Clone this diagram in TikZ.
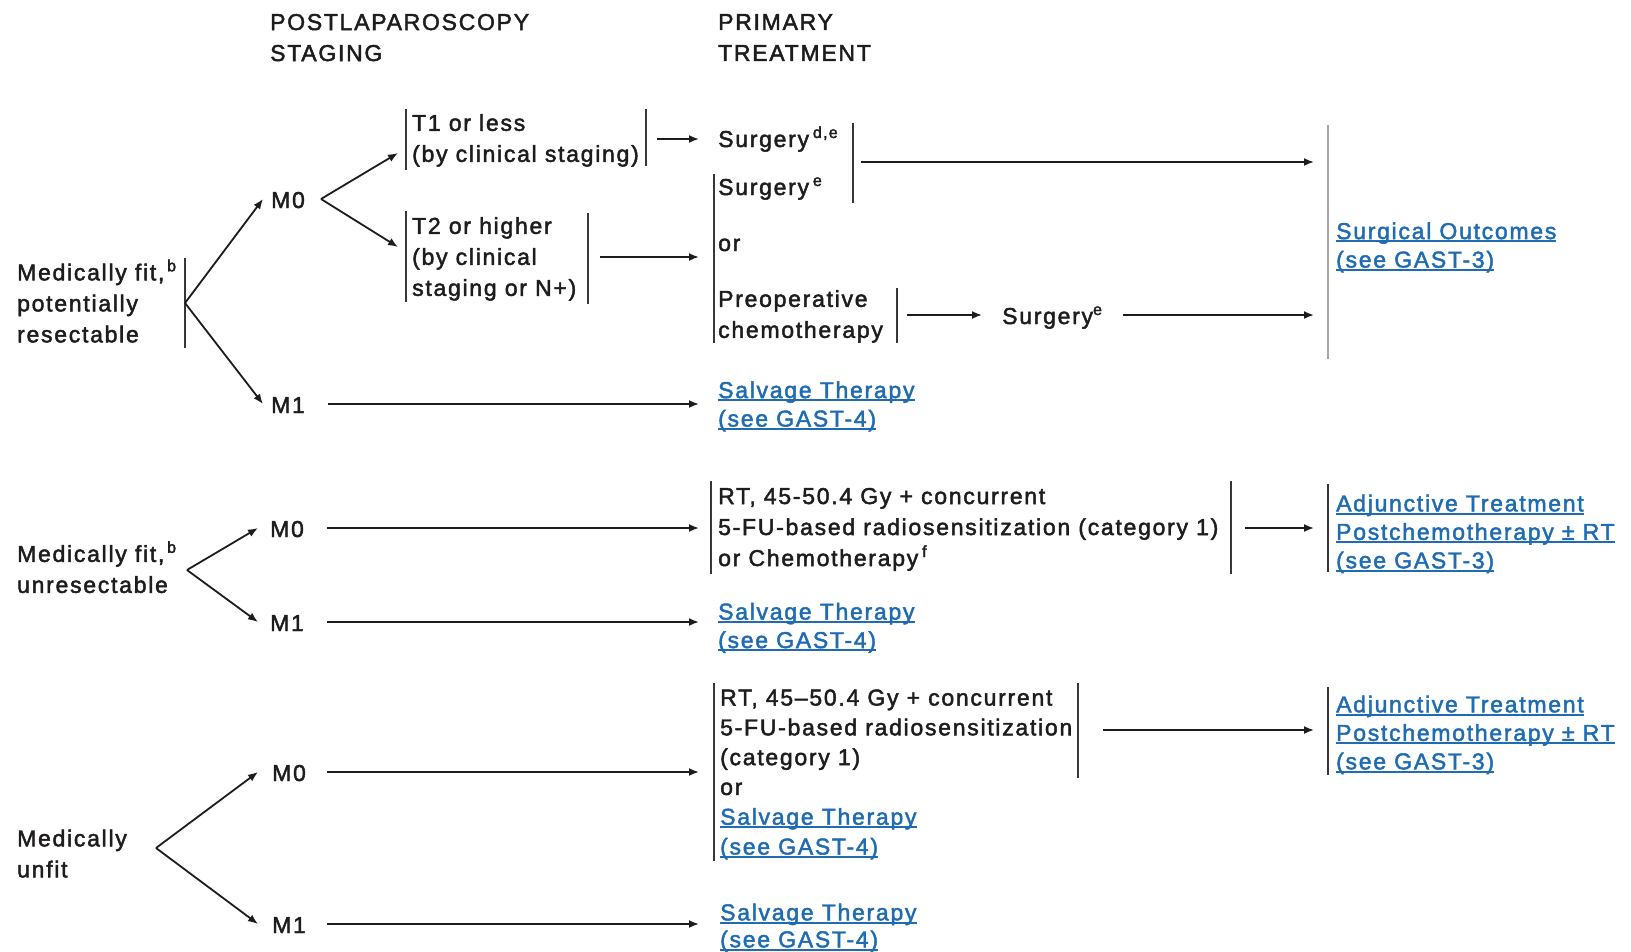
\documentclass[tikz,border=0pt]{standalone}
\usepackage{fontspec}
\setmainfont{Liberation Sans}[LetterSpace=7.5,FakeBold=2]
\usetikzlibrary{arrows.meta}
\definecolor{txtc}{RGB}{30,28,29}
\definecolor{lnkc}{RGB}{31,108,179}
\definecolor{barc}{RGB}{55,55,55}
\newcommand\lnk[1]{\setbox0=\hbox{#1}\rlap{\rule[-3.2pt]{\wd0}{2pt}}\box0}
\newcommand\stu{\rule[-7pt]{0pt}{28pt}}
\tikzset{
  txt/.style={anchor=west, inner sep=0pt, align=left, text=txtc, yshift=-2pt,
    font=\fontsize{23}{31}\selectfont,
    execute at begin node=\stu, execute at end node=\stu},
  lk/.style={txt, text=lnkc, yshift=-1pt, font=\fontsize{23}{28.5}\selectfont},
  arr/.style={draw=txtc, line width=1.8pt, -{Latex[length=10pt,width=8pt]}},
  bar/.style={draw=barc, line width=1.6pt},
  lbar/.style={draw=black!35, line width=2pt},
}
\begin{document}
\begin{tikzpicture}[x=1pt,y=-1pt]
\fill[white] (0,0) rectangle (1631,951);
\useasboundingbox (0,0) rectangle (1631,951);

% headers
\node[txt] (h1) at (270,39) {POSTLAPAROSCOPY\\STAGING};
\node[txt] (h2) at (718,39) {PRIMARY\\TREATMENT};

% ---------- group 1 ----------
\node[txt] (fitres) at (17,302.5) {Medically fit,\textsuperscript{\,b}\\potentially\\resectable};
\draw[bar] (185,258) -- (185,348);
\coordinate (brA) at (185,303);
\node[txt] (m0a) at (271,199) {M0};
\node[txt] (m1a) at (271,404) {M1};

\node[txt] (t1) at (412,139.5) {T1 or less\\(by clinical staging)};
\draw[bar] (406,109) -- (406,170);
\draw[bar] (646,109) -- (646,166);
\coordinate (t1in) at (406,153);
\coordinate (t1out) at (646,139);

\node[txt] (t2) at (412,258) {T2 or higher\\(by clinical\\staging or N+)};
\draw[bar] (406,211) -- (406,302);
\draw[bar] (588,213) -- (588,304);
\coordinate (t2in) at (406,247);
\coordinate (t2out) at (588,257);

\node[txt] (surg1) at (718,138) {Surgery\,\textsuperscript{d,e}};
\node[txt] (surg2) at (718,186) {Surgery\,\textsuperscript{e}};
\draw[bar] (853,123) -- (853,203);
\coordinate (s1out) at (853,162);
\node[txt] (orA) at (718,242) {or};
\node[txt] (preop) at (718,315.5) {Preoperative\\chemotherapy};
\draw[bar] (714,174) -- (714,343);
\coordinate (sgin) at (714,257);
\draw[bar] (897,288) -- (897,343);
\coordinate (pcout) at (897,315);
\node[txt] (surg3) at (1002,315) {Surgery\textsuperscript{e}};

\draw[lbar] (1328,125) -- (1328,359);
\coordinate (soin1) at (1328,162);
\coordinate (soin2) at (1328,315);
\node[lk] (so) at (1336,245.5) {\lnk{Surgical Outcomes}\\\lnk{(see GAST-3)}};

\node[lk] (salv1) at (718,404.5) {\lnk{Salvage Therapy}\\\lnk{(see GAST-4)}};

\draw[arr] (brA) -- ([xshift=-8,yshift=2]m0a.west);
\draw[arr] (brA) -- ([xshift=-8,yshift=2]m1a.west);
\draw[arr] ([xshift=50,yshift=2]m0a.west) -- ([xshift=-8]t1in);
\draw[arr] ([xshift=50,yshift=2]m0a.west) -- ([xshift=-8]t2in);
\draw[arr] ([xshift=11]t1out) -- ([xshift=-19]surg1.west |- t1out);
\draw[arr] ([xshift=8]s1out) -- ([xshift=-14]soin1);
\draw[arr] ([xshift=12]t2out) -- ([xshift=-15]sgin);
\draw[arr] ([xshift=10]pcout) -- ([xshift=-20]surg3.west |- pcout);
\draw[arr] ([xshift=121]surg3.west |- pcout) -- ([xshift=-14]soin2);
\draw[arr] ([xshift=57,yshift=2]m1a.west) -- ([xshift=-19,yshift=2]salv1.west |- m1a.west);

% ---------- group 2 ----------
\node[txt] (fitun) at (17,568.5) {Medically fit,\textsuperscript{\,b}\\unresectable};
\coordinate (brB) at (187,570);
\node[txt] (m0b) at (270,528) {M0};
\node[txt] (m1b) at (270,622) {M1};

\node[txt] (rt1) at (718,528.5) {RT, 45-50.4 Gy + concurrent\\5-FU-based radiosensitization (category 1)\\or Chemotherapy\,\textsuperscript{f}};
\draw[bar] (711,481) -- (711,574);
\draw[bar] (1231,481) -- (1231,574);
\coordinate (rt1in) at (711,528);
\coordinate (rt1out) at (1231,528);

\draw[bar] (1328,484) -- (1328,572);
\coordinate (adj1in) at (1328,528);
\node[lk] (adj1) at (1336,532) {\lnk{Adjunctive Treatment}\\\lnk{Postchemotherapy ± RT}\\\lnk{(see GAST-3)}};

\node[lk] (salv2) at (718,626) {\lnk{Salvage Therapy}\\\lnk{(see GAST-4)}};

\draw[arr] (brB) -- ([xshift=-12,yshift=2]m0b.west);
\draw[arr] (brB) -- ([xshift=-12,yshift=2]m1b.west);
\draw[arr] ([xshift=57,yshift=2]m0b.west) -- ([xshift=-12]rt1in);
\draw[arr] ([xshift=14]rt1out) -- ([xshift=-14]adj1in);
\draw[arr] ([xshift=57,yshift=2]m1b.west) -- ([xshift=-19,yshift=2]salv2.west |- m1b.west);

% ---------- group 3 ----------
\node[txt] (unfit) at (17,855) {Medically\\unfit};
\coordinate (brC) at (156,848);
\node[txt] (m0c) at (272,772) {M0};
\node[txt] (m1c) at (272,924) {M1};

\node[txt, font=\fontsize{23}{29.8}\selectfont] (rt2) at (720,773.5)
  {RT, 45--50.4 Gy + concurrent\\5-FU-based radiosensitization\\(category 1)\\or\\
   \textcolor{lnkc}{\lnk{Salvage Therapy}}\\\textcolor{lnkc}{\lnk{(see GAST-4)}}};
\draw[bar] (714,683) -- (714,861);
\draw[bar] (1078,683) -- (1078,778);
\coordinate (rt2in) at (714,772);
\coordinate (rt2out) at (1078,730);

\draw[bar] (1328,687) -- (1328,775);
\coordinate (adj2in) at (1328,730);
\node[lk] (adj2) at (1336,733) {\lnk{Adjunctive Treatment}\\\lnk{Postchemotherapy ± RT}\\\lnk{(see GAST-3)}};

\node[lk, font=\fontsize{23}{27}\selectfont] (salv3) at (720,926) {\lnk{Salvage Therapy}\\\lnk{(see GAST-4)}};

\draw[arr] (brC) -- ([xshift=-14,yshift=2]m0c.west);
\draw[arr] (brC) -- ([xshift=-14,yshift=2]m1c.west);
\draw[arr] ([xshift=55,yshift=2]m0c.west) -- ([xshift=-15]rt2in);
\draw[arr] ([xshift=25]rt2out) -- ([xshift=-14]adj2in);
\draw[arr] ([xshift=55,yshift=2]m1c.west) -- ([xshift=-21,yshift=2]salv3.west |- m1c.west);
\end{tikzpicture}
\end{document}
